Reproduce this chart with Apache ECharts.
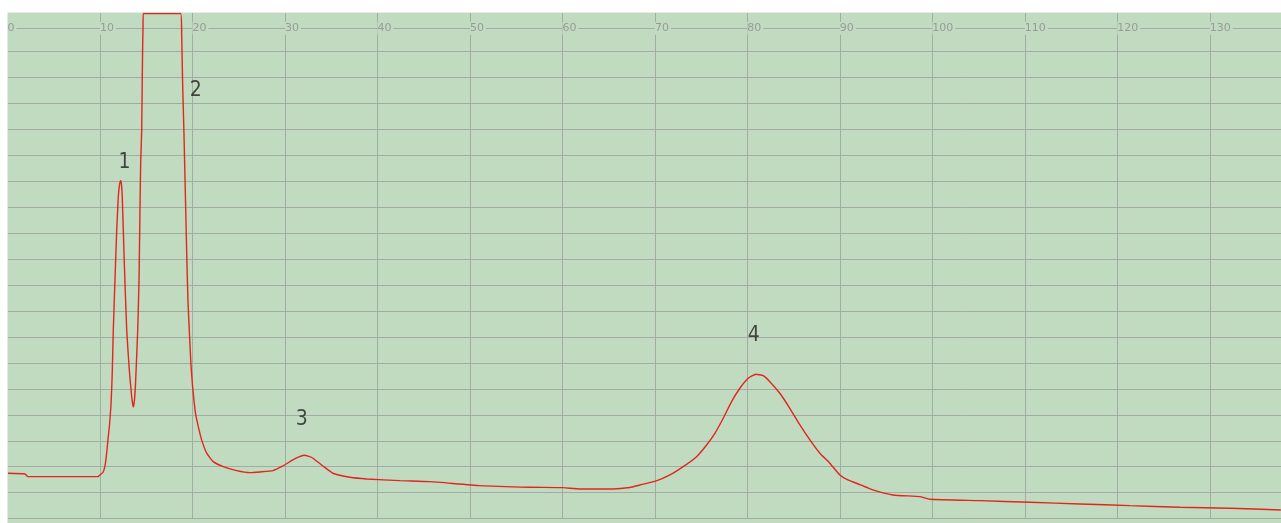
<!DOCTYPE html>
<html>
<head>
<meta charset="utf-8">
<script src="https://cdn.jsdelivr.net/npm/echarts@6/dist/echarts.min.js"></script>
<style>
html,body{margin:0;padding:0;background:#fff;}
#chart{width:1281px;height:523px;}
</style>
</head>
<body>
<div id="chart"></div>
<script>
// retention time (min)
var timeValues = [0.05,1.89,2.22,5.68,9.78,10.0,
  10.32,10.54,10.70,10.86,11.03,11.19,11.32,11.44,
  11.62,11.81,11.98,12.11,12.24,12.32,12.41,12.63,12.89,13.17,13.43,13.60,13.73,13.86,14.08,14.22,14.32,14.40,14.51,14.57,14.62,14.65,14.68,18.72,
  18.83,18.94,19.08,19.22,19.37,19.51,19.68,19.84,20.0,20.16,20.32,20.63,20.99,21.54,22.25,23.33,24.78,26.22,27.30,
  28.70,29.78,30.86,31.51,32.05,32.59,33.03,34.11,35.19,37.03,38.86,42.43,45.68,51.08,56.49,60.05,61.89,65.46,67.30,68.38,70.22,
  71.62,73.06,74.51,75.59,76.49,77.39,78.29,79.19,80.09,80.92,81.71,82.43,83.51,84.59,85.68,86.76,87.84,88.92,90.0,90.86,91.81,
  93.57,95.73,98.65,99.73,105.14,110.54,115.95,121.35,126.76,132.16,137.68];
// detector signal
var signalValues = [7.48,7.21,6.17,6.17,6.17,6.82,
  7.78,10.29,14.53,20.31,26.09,33.8,45.36,62.7,
  81.97,101.23,113.95,118.58,120.23,118.96,113.95,88.52,62.7,47.28,36.88,33.03,35.72,43.43,62.7,81.97,107.78,127.05,139.77,159.04,173.68,178.31,184.66,184.66,
  177.15,157.11,138.61,116.65,93.45,74.2,60.7,49.16,41.43,35.65,30.71,25.43,20.35,15.22,11.95,10.02,8.48,7.71,7.98,
  8.48,10.29,12.6,13.76,14.41,13.95,13.26,10.29,7.48,5.93,5.28,4.62,4.24,2.70,2.08,1.93,1.43,1.43,2.0,2.97,4.62,
  6.82,10.02,13.87,18.38,22.89,28.67,35.07,40.23,44.08,45.63,45.09,42.77,38.30,32.52,26.09,20.31,15.18,11.33,6.82,4.89,3.62,
  1.04,-0.89,-1.54,-2.54,-3.08,-3.70,-4.35,-5.01,-5.63,-6.01,-6.67];
// peak annotations
var peakNames = ['1','2','3','4'];
var peakLabelX = [12.65,20.35,31.81,80.68];
var peakLabelY = [127.05,154.9,28.02,60.46];
// axis settings
var xMin = 0, xMax = 137.7, xStep = 10;
var yMin = -10, yMax = 184.86, yStep = 10;

var curve = timeValues.map(function(t,i){return [t, signalValues[i]];});
var peaks = peakNames.map(function(n,i){return {name:n, value:[peakLabelX[i], peakLabelY[i]]};});

var green = '#c1dbc1';
var gridGray = '#a3aca3';
var lineColors = [];
for (var i = 0; i < 19; i++) lineColors.push(gridGray);
lineColors.push('rgba(0,0,0,0)');

var chart = echarts.init(document.getElementById('chart'), null, {renderer:'canvas'});
chart.setOption({
  animation: false,
  backgroundColor: green,
  graphic: [
    {type: 'rect', left: 0, top: 0, shape: {x: 0, y: 0, width: 1281, height: 12.5}, style: {fill: '#ffffff'}, z: 100, silent: true},
    {type: 'rect', left: 0, top: 0, shape: {x: 0, y: 0, width: 7.5, height: 523}, style: {fill: '#ffffff'}, z: 100, silent: true}
  ],
  grid: {left: 7.5, right: 0, top: 13, bottom: 4.4, show: false},
  xAxis: {
    type: 'value', position: 'top', min: xMin, max: xMax, interval: xStep,
    offset: -15.3,
    axisLine: {show: true, onZero: false, lineStyle: {color: gridGray, width: 1}},
    axisTick: {show: false},
    axisLabel: {
      inside: true, margin: 0, align: 'left', verticalAlign: 'middle',
      color: '#9a9a9a', fontFamily: 'DejaVu Sans', fontSize: 11,
      backgroundColor: green, padding: [1, 2, 1, 0],
      showMaxLabel: false, showMinLabel: true
    },
    splitLine: {show: true, showMinLine: false, showMaxLine: false, lineStyle: {color: gridGray, width: 1}}
  },
  yAxis: {
    type: 'value', min: yMin, max: yMax, interval: yStep,
    axisLine: {show: false}, axisTick: {show: false}, axisLabel: {show: false},
    splitLine: {show: true, showMinLine: true, showMaxLine: false, lineStyle: {color: lineColors, width: 1}}
  },
  series: [
    {
      type: 'line', data: curve, showSymbol: false, symbol: 'none', clip: false,
      smooth: 0.15,
      lineStyle: {color: '#e3241f', width: 1.4}, z: 3
    },
    {
      type: 'scatter', data: peaks, symbolSize: 1, itemStyle: {color: 'rgba(0,0,0,0)'},
      label: {show: true, position: 'inside', formatter: '{b}', color: '#1e1e1e',
        fontFamily: '"Liberation Sans Narrow","DejaVu Sans Condensed",sans-serif', fontSize: 21},
      z: 4
    }
  ]
});
</script>
</body>
</html>
